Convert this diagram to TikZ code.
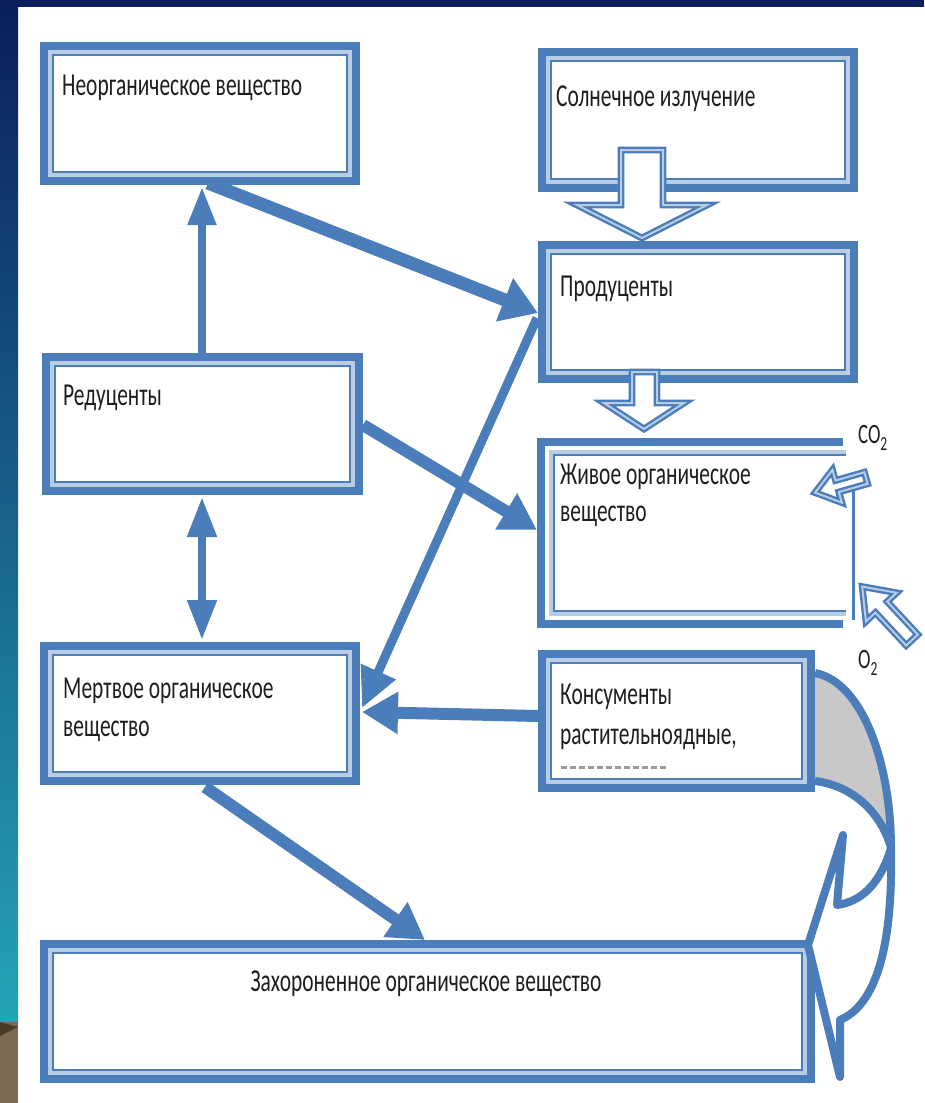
\documentclass[tikz,border=0pt]{standalone}
\usepackage{fontspec}
\setmainfont[FakeStretch=0.67]{Carlito}
\usetikzlibrary{arrows.meta,calc}
\definecolor{bl}{HTML}{4A7DBA}
\definecolor{pale}{HTML}{B8CCE4}
\definecolor{navy}{HTML}{0B1F5E}
\definecolor{midb}{HTML}{1A55A0}
\definecolor{tealc}{HTML}{24A4B6}
\definecolor{brownA}{HTML}{7B6A52}
\definecolor{brownD}{HTML}{4A3A28}
\definecolor{txt}{HTML}{1E1E1E}
\definecolor{grayf}{HTML}{C8C8C8}
\begin{document}
\begin{tikzpicture}[x=1pt,y=-1pt,
  box/.style={draw=bl, line width=8pt, inner sep=0pt, fill=white},
  lbl/.style={anchor=base west, inner sep=0pt, text=txt, font=\fontsize{32}{38}\selectfont},
  sub/.style={anchor=base west, inner sep=0pt, text=txt, font=\fontsize{28}{30}\selectfont},
  athin/.style={draw=bl, line width=8pt, -{Triangle[width=27pt,length=38pt]}},
  amid/.style={draw=bl, line width=9pt, -{Triangle[width=36pt,length=40pt]}},
  athick/.style={draw=bl, line width=12pt, -{Triangle[width=40pt,length=36pt]}},
  abig/.style={draw=bl, line width=13pt, -{Triangle[width=44pt,length=36pt]}},
  barrow/.style={draw=bl, line width=2.4pt, double=pale, double distance=2pt, fill=white, line join=miter},
  curve/.style={draw=bl, line width=8pt, line join=round},
]
\useasboundingbox (0,0) rectangle (924,1103);
\fill[white] (0,0) rectangle (924,1103);
% background strips
\shade[top color=navy, middle color=midb, bottom color=tealc] (0,0) rectangle (18,1022);
\fill[navy] (0,0) rectangle (924,7);
\fill[brownA] (0,1022) rectangle (18,1103);
\fill[brownD] (0,1022) -- (18,1027) -- (0,1036) -- cycle;

% boxes
\node[box, minimum width=312pt, minimum height=135pt] (A) at (200,113.5) {};
\node[box, minimum width=312pt, minimum height=136pt] (B) at (698,120) {};
\node[box, minimum width=312pt, minimum height=134pt] (C) at (698,312) {};
\node[box, minimum width=313pt, minimum height=134pt] (E) at (202.5,424) {};
\node[box, minimum width=312pt, minimum height=135pt] (F) at (200,713.5) {};
\node[box, minimum width=269pt, minimum height=134pt] (G) at (676.5,721) {};
\node[box, minimum width=767pt, minimum height=135pt] (H) at (427.5,1011.5) {};
\node[inner sep=0pt, outer sep=0pt, minimum width=316pt, minimum height=190pt] (D) at (695,533) {};
\foreach \n in {A,B,C,E,F,G,H}{
  \draw[pale, line width=4pt] ($(\n.north west)+(10,10)$) rectangle ($(\n.south east)+(-10,-10)$);
  \draw[bl, line width=2pt] ($(\n.north west)+(13,13)$) rectangle ($(\n.south east)+(-13,-13)$);
}
% open box D
\draw[bl, line width=8pt] (843,442) -- (541,442) -- (541,624) -- (843,624);
\draw[pale, line width=4pt] (846,452) -- (551,452) -- (551,614) -- (846,614);
\draw[bl, line width=2pt] (846,455) -- (554,455) -- (554,611) -- (846,611);
\draw[bl, line width=3pt] (853,480) -- (853,620);

% texts
\node[lbl] (tA) at (62,95) {Неорганическое вещество};
\node[lbl] (tB) at (556,106) {Солнечное излучение};
\node[lbl] (tC) at (560,296) {Продуценты};
\node[lbl] (tE) at (63,405) {Редуценты};
\node[lbl] (tD1) at (560,484) {Живое органическое};
\node[lbl] (tD2) at (560,521) {вещество};
\node[lbl] (tF1) at (63,698) {Мертвое органическое};
\node[lbl] (tF2) at (63,736) {вещество};
\node[lbl] (tG1) at (560,704) {Консументы};
\node[lbl] (tG2) at (560,744) {растительноядные,};
\draw[gray!80, line width=3pt, dash pattern=on 6pt off 3pt] (561,767) -- (668,767);
\node[lbl, anchor=base] (tH) at (426,991) {Захороненное органическое вещество};
\node[sub] (co2) at (858,443) {CO\raisebox{-7pt}{\fontsize{20}{20}\selectfont 2}};
\node[sub] (o2) at (858,668) {O\raisebox{-7pt}{\fontsize{20}{20}\selectfont 2}};

% connectors
\draw[athin] ($(E.north west)+(160,0)$) -- ($(A.south west)+(162,2)$);
\draw[abig] ($(A.south west)+(168,-2)$) -- ($(C.north west)+(0,72)$);
\draw[amid] ($(C.north west)+(-1,77)$) -- ($(F.north east)+(2,66)$);
\draw[athick] ($(E.north west)+(321,72)$) -- ($(D.north west)+(0,92)$);
\draw[athin, {Triangle[width=28pt,length=40pt]}-{Triangle[width=28pt,length=40pt]}] ($(E.south west)+(160,2)$) -- ($(F.north west)+(162,-2)$);
\draw[athick] ($(G.north west)+(0,66)$) -- ($(F.north east)+(2,70)$);
\draw[athick] ($(F.south west)+(165,2)$) -- ($(H.north west)+(385,0)$);

% block arrows
\draw[barrow] (621,150) -- (663,150) -- (663,205) -- (707,205) -- (642,238) -- (577,205) -- (621,205) -- cycle;
\draw[barrow] (632,372) -- (657,372) -- (657,403) -- (684,403) -- (644,429) -- (604,403) -- (632,403) -- cycle;
\begin{scope}[shift={(866,478)}, rotate=196]
  \draw[barrow] (0,-6) -- (30,-6) -- (30,-17) -- (53,0) -- (30,17) -- (30,6) -- (0,6) -- cycle;
\end{scope}
\begin{scope}[shift={(912,640)}, rotate=133]
  \draw[barrow] (0,-8) -- (45,-8) -- (45,-21) -- (73,0) -- (45,21) -- (45,8) -- (0,8) -- cycle;
\end{scope}

% curved arrow at right (back part shaded)
\fill[grayf] (815,673) .. controls (863,682) and (891,765) .. (891,848)
  .. controls (882,815) and (855,786) .. (815,781) -- cycle;
\draw[curve] (815,673) .. controls (863,682) and (891,765) .. (891,848);
\draw[curve] (815,781) .. controls (855,786) and (882,815) .. (891,848);
% front part with head pointing left
\draw[curve, fill=white] (891,848) .. controls (893,950) and (875,1005) .. (840,1020)
  -- (840,1077) -- (808,945) -- (843,835) -- (837,905)
  .. controls (860,902) and (880,885) .. (891,848) -- cycle;
\end{tikzpicture}
\end{document}
